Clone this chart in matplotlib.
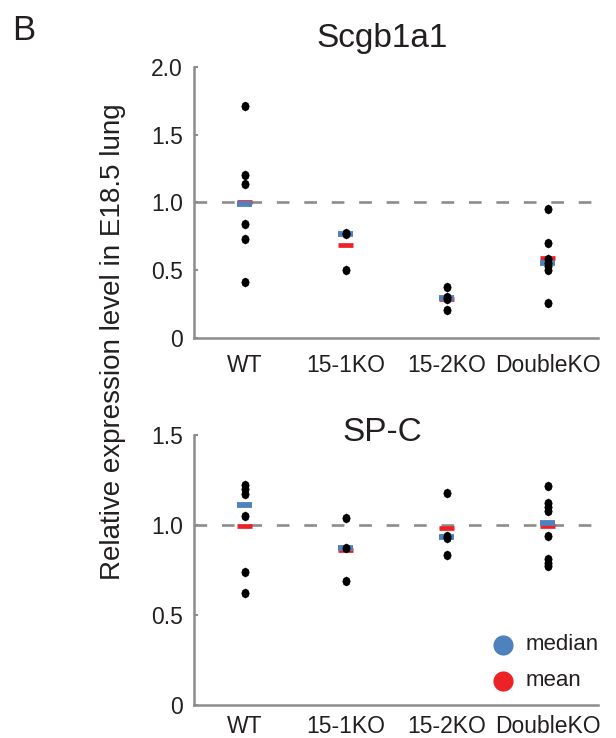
import matplotlib
matplotlib.use('Agg')
import matplotlib.pyplot as plt

plt.rcParams['font.family'] = ['Liberation Sans', 'DejaVu Sans']

# ---------------------------------------------------------------------------
# Data
# ---------------------------------------------------------------------------
groups = ['WT', '15-1KO', '15-2KO', 'DoubleKO']

scgb_points = [
    [1.71, 1.20, 1.14, 0.845, 0.73, 0.41],
    [0.775, 0.765, 0.505],
    [0.375, 0.30, 0.285, 0.21],
    [0.95, 0.70, 0.58, 0.55, 0.53, 0.505, 0.26],
]
scgb_median = [0.99, 0.766, 0.294, 0.554]
scgb_mean = [1.005, 0.684, 0.285, 0.59]

spc_points = [
    [1.225, 1.20, 1.17, 1.05, 0.74, 0.62],
    [1.04, 0.873, 0.687],
    [1.178, 0.941, 0.929, 0.831],
    [1.215, 1.125, 1.10, 1.08, 0.94, 0.81, 0.79, 0.77],
]
spc_median = [1.111, 0.873, 0.936, 1.01]
spc_mean = [0.997, 0.862, 0.982, 0.995]

BLUE = '#4f81bd'
RED = '#ed2226'
GRAY = '#8c8c8c'
TXT = '#231f20'

# slightly tall ellipse, like the dots in the original
DOT = [(-0.85, 0), (-0.6, 0.7), (0, 1), (0.6, 0.7), (0.85, 0),
       (0.6, -0.7), (0, -1), (-0.6, -0.7), (-0.85, 0)]


def draw_panel(ax, points, medians, means, ymax, yticks, yticklabels, xpad):
    ax.axhline(1.0, color=GRAY, lw=1.9, ls=(0, (4.8, 5.6)), zorder=1)
    xs = range(len(groups))
    half = 0.076
    ax.hlines(means, [x - half for x in xs], [x + half for x in xs],
              color=RED, lw=3.4, zorder=2)
    ax.hlines(medians, [x - half for x in xs], [x + half for x in xs],
              color=BLUE, lw=4.2, zorder=3)
    for x, vals in zip(xs, points):
        ax.plot([x] * len(vals), vals, marker=DOT, ls='none', color='black',
                ms=7.0, markeredgewidth=0, zorder=4)

    ax.set_xlim(-0.5, 3.5)
    ax.set_ylim(0, ymax)
    ax.set_xticks(list(xs))
    ax.set_xticklabels(groups)
    ax.set_yticks(yticks)
    ax.set_yticklabels(yticklabels)
    ax.tick_params(axis='x', length=0, pad=xpad, labelsize=16.5,
                   labelcolor=TXT)
    ax.tick_params(axis='y', direction='in', length=3, width=1.5,
                   color=GRAY, pad=8, labelsize=16.5, labelcolor=TXT)
    for s in ['top', 'right']:
        ax.spines[s].set_visible(False)
    for s in ['left', 'bottom']:
        ax.spines[s].set_color(GRAY)
        ax.spines[s].set_linewidth(1.8)


fig = plt.figure(figsize=(6.16, 7.38), dpi=100)

ax1 = fig.add_axes([194 / 616, 1 - 338 / 738, 404 / 616, 271 / 738])
draw_panel(ax1, scgb_points, scgb_median, scgb_mean, 2.0,
           [0, 0.5, 1.0, 1.5, 2.0], ['0', '0.5', '1.0', '1.5', '2.0'], 11.7)

ax2 = fig.add_axes([194 / 616, 1 - 705 / 738, 404 / 616, 270 / 738])
draw_panel(ax2, spc_points, spc_median, spc_mean, 1.5,
           [0, 0.5, 1.0, 1.5], ['0', '0.5', '1.0', '1.5'], 7.4)

# titles
fig.text(382 / 616, 1 - 47 / 738, 'Scgb1a1', fontsize=24, color=TXT,
         ha='center', va='baseline')
fig.text(382 / 616, 1 - 441 / 738, 'SP-C', fontsize=24, color=TXT,
         ha='center', va='baseline')

# shared y label
fig.text(113 / 616, 1 - 342 / 738, 'Relative expression level in E18.5 lung',
         fontsize=20, color=TXT, rotation=90, ha='center', va='center')

# panel letter
fig.text(12 / 616, 1 - 40 / 738, 'B', fontsize=25, color=TXT,
         ha='left', va='baseline')

# legend
ax2.plot([503 / 616], [1 - 645 / 738], 'o', color=BLUE, ms=14.5,
         markeredgewidth=0, transform=fig.transFigure, clip_on=False)
ax2.plot([503 / 616], [1 - 681 / 738], 'o', color=RED, ms=14.5,
         markeredgewidth=0, transform=fig.transFigure, clip_on=False)
fig.text(526 / 616, 1 - 645 / 738, 'median', fontsize=16, color=TXT,
         ha='left', va='center')
fig.text(526 / 616, 1 - 681 / 738, 'mean', fontsize=16, color=TXT,
         ha='left', va='center')

fig.savefig('out.png', dpi=100)
